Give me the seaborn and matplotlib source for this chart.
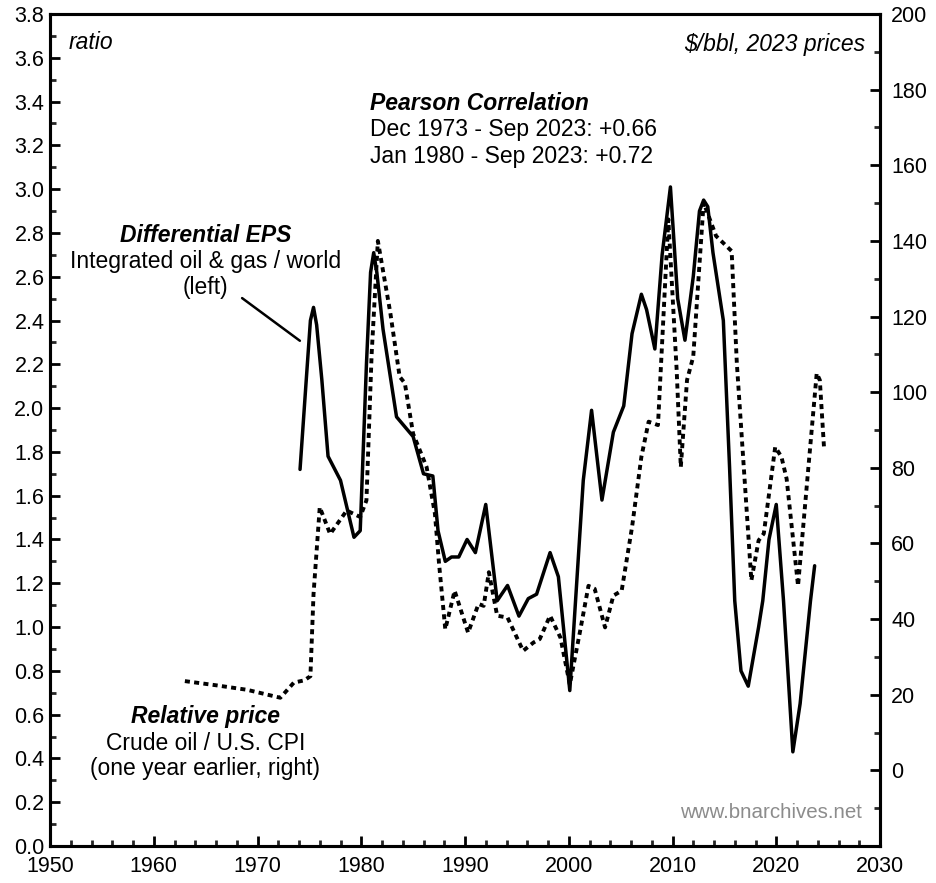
import matplotlib
matplotlib.use("Agg")
import matplotlib.pyplot as plt
from matplotlib.ticker import MultipleLocator
import seaborn as sns

# Differential EPS: integrated oil & gas / world (left axis, ratio)
eps_years = [1974.1, 1974.7, 1975.1, 1975.4, 1975.7, 1976.2, 1976.8, 1978.0, 1978.9,
             1979.3, 1979.9, 1980.5, 1980.9, 1981.2, 1981.5, 1982.1, 1983.4, 1985.0,
             1986.0, 1986.9, 1987.4, 1988.1, 1988.7, 1989.4, 1990.2, 1991.0, 1992.0,
             1993.1, 1994.1, 1995.2, 1996.1, 1996.9, 1998.2, 1999.0, 2000.1, 2001.4,
             2002.2, 2003.2, 2004.3, 2005.3, 2006.1, 2007.0, 2007.5, 2008.3, 2009.0,
             2009.8, 2010.5, 2011.2, 2012.0, 2012.6, 2013.0, 2013.4, 2013.9, 2014.9,
             2015.5, 2016.0, 2016.6, 2017.3, 2018.3, 2018.7, 2019.3, 2020.0, 2020.7,
             2021.6, 2022.3, 2023.3, 2023.7]
eps_ratio = [1.72, 2.13, 2.40, 2.46, 2.38, 2.13, 1.78, 1.67, 1.49,
             1.41, 1.44, 2.20, 2.62, 2.71, 2.62, 2.36, 1.96, 1.87,
             1.70, 1.69, 1.44, 1.30, 1.32, 1.32, 1.40, 1.34, 1.56,
             1.12, 1.19, 1.05, 1.13, 1.15, 1.34, 1.23, 0.71, 1.67,
             1.99, 1.58, 1.89, 2.01, 2.34, 2.52, 2.45, 2.27, 2.70,
             3.01, 2.50, 2.31, 2.60, 2.90, 2.95, 2.92, 2.71, 2.40,
             1.73, 1.12, 0.80, 0.73, 1.00, 1.12, 1.40, 1.56, 1.12,
             0.43, 0.65, 1.12, 1.28]

# Relative price: crude oil / U.S. CPI, one year earlier (right axis, $/bbl 2023 prices)
price_years = [1963.0, 1966.0, 1969.0, 1972.2, 1973.5, 1974.5, 1975.1, 1975.4, 1976.0,
               1977.0, 1978.6, 1979.9, 1980.5, 1981.0, 1981.6, 1982.8, 1983.7, 1984.2,
               1985.0, 1986.3, 1987.1, 1987.5, 1988.1, 1989.0, 1990.3, 1991.3, 1991.8,
               1992.3, 1993.1, 1994.1, 1995.6, 1996.6, 1997.2, 1998.2, 1999.2, 2000.1,
               2001.1, 2001.9, 2002.5, 2003.5, 2004.3, 2005.1, 2006.1, 2007.0, 2007.7,
               2008.6, 2009.6, 2010.4, 2010.8, 2011.4, 2012.0, 2013.0, 2014.2, 2015.7,
               2016.2, 2017.6, 2018.3, 2018.8, 2019.9, 2020.5, 2021.0, 2022.1, 2023.1,
               2023.9, 2024.2, 2024.6]
price_real = [23.6, 22.5, 21.3, 19.2, 23.2, 23.8, 24.9, 46.6, 69.6,
              62.5, 68.7, 67.0, 71.4, 110.0, 140.0, 121.0, 104.1, 102.4,
              89.0, 80.2, 67.9, 54.6, 37.3, 47.5, 36.4, 44.0, 43.5,
              52.4, 40.9, 40.4, 31.6, 33.8, 34.7, 40.9, 35.1, 22.7,
              36.9, 48.8, 48.0, 37.8, 46.2, 47.5, 64.3, 82.9, 92.2,
              91.3, 145.7, 105.9, 80.2, 103.2, 109.4, 150.1, 141.3, 137.3,
              107.7, 50.2, 60.8, 62.6, 85.5, 82.9, 77.1, 48.8, 80.2,
              105.0, 103.2, 85.5]

corr_lines = ["Dec 1973 - Sep 2023: +0.66", "Jan 1980 - Sep 2023: +0.72"]

sns.set_style("ticks")
plt.rcParams["font.family"] = ["Liberation Sans", "DejaVu Sans"]
plt.rcParams["text.color"] = "black"
fs = 16.5      # annotation text
tfs = 15.5     # tick labels

fig = plt.figure(figsize=(9.36, 8.83), dpi=100)
ax = fig.add_axes([50 / 936, 1 - 846 / 883, 830 / 936, 832 / 883])
ax2 = ax.twinx()

sns.lineplot(x=eps_years, y=eps_ratio, ax=ax, color="black", linewidth=2.5, sort=False)
sns.lineplot(x=price_years, y=price_real, ax=ax2, color="black", linewidth=2.8,
             linestyle=(0, (1.3, 1.1)), sort=False)

ax.set_xlim(1950, 2030)
ax.set_ylim(0, 3.8)
ax2.set_ylim(-20, 200)

ax.xaxis.set_major_locator(MultipleLocator(10))
ax.xaxis.set_minor_locator(MultipleLocator(2))
ax.yaxis.set_major_locator(MultipleLocator(0.2))
ax.yaxis.set_minor_locator(MultipleLocator(0.1))
ax.yaxis.set_major_formatter(plt.FormatStrFormatter("%.1f"))
ax2.yaxis.set_minor_locator(MultipleLocator(10))
ax2.set_yticks([0, 20, 40, 60, 80, 100, 120, 140, 160, 180, 200])

for a in (ax, ax2):
    for s in a.spines.values():
        s.set_visible(True)
        s.set_linewidth(2.2)
        s.set_color("black")
ax.tick_params(axis="both", which="major", direction="in", length=7, width=2,
               labelsize=tfs, colors="black")
ax.tick_params(axis="both", which="minor", direction="in", length=4.5, width=2)
ax.tick_params(axis="y", pad=4)
ax.tick_params(axis="x", pad=7)
ax.tick_params(top=False, which="both")
ax2.tick_params(axis="y", which="major", direction="in", length=7, width=2,
                labelsize=tfs, pad=8, colors="black")
ax2.tick_params(axis="y", which="minor", direction="in", length=4.5, width=2)
ax.set_xlabel("")
ax.set_ylabel("")
ax2.set_ylabel("")

ax.text(0.022, 0.966, "ratio", transform=ax.transAxes, fontsize=fs, style="italic",
        ha="left", va="center")
ax.text(0.982, 0.963, "$/bbl, 2023 prices", transform=ax.transAxes, fontsize=fs,
        style="italic", ha="right", va="center")

ax.text(0.386, 0.893, "Pearson Correlation", transform=ax.transAxes, fontsize=fs,
        style="italic", weight="bold", ha="left", va="center")
ax.text(0.386, 0.861, corr_lines[0], transform=ax.transAxes, fontsize=fs,
        ha="left", va="center")
ax.text(0.386, 0.829, corr_lines[1], transform=ax.transAxes, fontsize=fs,
        ha="left", va="center")

ax.text(0.187, 0.734, "Differential EPS", transform=ax.transAxes, fontsize=fs,
        style="italic", weight="bold", ha="center", va="center")
ax.text(0.187, 0.702, "Integrated oil & gas / world", transform=ax.transAxes,
        fontsize=fs, ha="center", va="center")
ax.text(0.187, 0.671, "(left)", transform=ax.transAxes, fontsize=fs,
        ha="center", va="center")
ax.annotate("", xy=(1974.3, 2.30), xytext=(1968.3, 2.51),
            arrowprops=dict(arrowstyle="-", color="black", lw=1.8))

ax.text(0.187, 0.156, "Relative price", transform=ax.transAxes, fontsize=fs,
        style="italic", weight="bold", ha="center", va="center")
ax.text(0.187, 0.123, "Crude oil / U.S. CPI", transform=ax.transAxes, fontsize=fs,
        ha="center", va="center")
ax.text(0.187, 0.093, "(one year earlier, right)", transform=ax.transAxes,
        fontsize=fs, ha="center", va="center")

ax.text(0.978, 0.040, "www.bnarchives.net", transform=ax.transAxes, fontsize=14.8,
        color="#8c8c8c", ha="right", va="center")

fig.savefig("out.png", dpi=100)
